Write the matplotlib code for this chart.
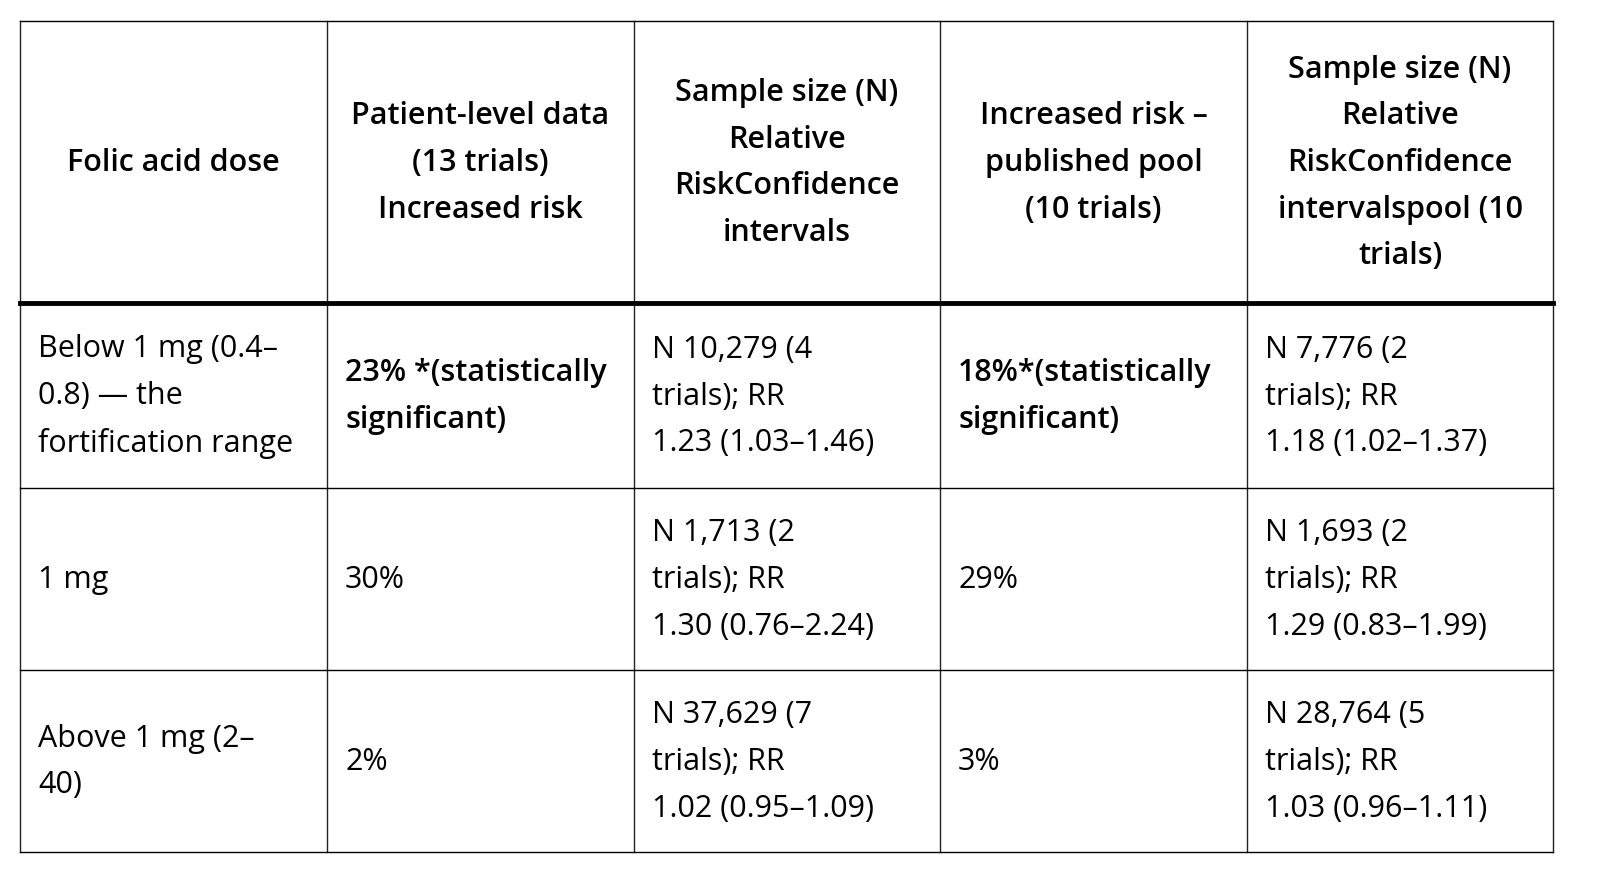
import matplotlib
matplotlib.use("Agg")
import matplotlib.pyplot as plt

plt.rcParams["font.family"] = ["Open Sans", "DejaVu Sans"]

HEADERS = [
    "Folic acid dose",
    "Patient-level data\n(13 trials)\nIncreased risk",
    "Sample size (N)\nRelative\nRiskConfidence\nintervals",
    "Increased risk \u2013\npublished pool\n(10 trials)",
    "Sample size (N)\nRelative\nRiskConfidence\nintervalspool (10\ntrials)",
]
ROWS = [
    ["Below 1 mg (0.4\u2013\n0.8) \u2014 the\nfortification range",
     "23% *(statistically\nsignificant)",
     "N 10,279 (4\ntrials); RR\n1.23 (1.03\u20131.46)",
     "18%*(statistically\nsignificant)",
     "N 7,776 (2\ntrials); RR\n1.18 (1.02\u20131.37)"],
    ["1 mg", "30%",
     "N 1,713 (2\ntrials); RR\n1.30 (0.76\u20132.24)",
     "29%",
     "N 1,693 (2\ntrials); RR\n1.29 (0.83\u20131.99)"],
    ["Above 1 mg (2\u2013\n40)", "2%",
     "N 37,629 (7\ntrials); RR\n1.02 (0.95\u20131.09)",
     "3%",
     "N 28,764 (5\ntrials); RR\n1.03 (0.96\u20131.11)"],
]
BOLD_CELLS = {(0, 1), (0, 3)}

COL_X = [20, 327, 634, 940, 1247, 1553]
ROW_Y = [22, 304, 489, 671, 853]

fig = plt.figure(figsize=(16.1, 8.95), dpi=100)
ax = fig.add_axes([0, 0, 1, 1])
ax.set_xlim(0, 1610)
ax.set_ylim(895, 0)
ax.axis("off")

FS = 22
LS = 1.72

for x in COL_X:
    ax.plot([x, x], [ROW_Y[0], ROW_Y[-1]], color="#222222", lw=1.0)
for i, y in enumerate(ROW_Y):
    ax.plot([COL_X[0], COL_X[-1]], [y, y], color="black",
            lw=3.5 if i == 1 else 1.0)

for j, h in enumerate(HEADERS):
    cx = (COL_X[j] + COL_X[j + 1]) / 2
    cy = (ROW_Y[0] + ROW_Y[1]) / 2
    ax.text(cx, cy, h, ha="center", va="center", fontsize=FS,
            fontweight="semibold", linespacing=LS, multialignment="center")

for i, row in enumerate(ROWS):
    cy = (ROW_Y[i + 1] + ROW_Y[i + 2]) / 2
    for j, cell in enumerate(row):
        ax.text(COL_X[j] + 18, cy, cell, ha="left", va="center", fontsize=FS,
                fontweight="semibold" if (i, j) in BOLD_CELLS else "normal",
                linespacing=LS)

fig.savefig("out.png", dpi=100)
